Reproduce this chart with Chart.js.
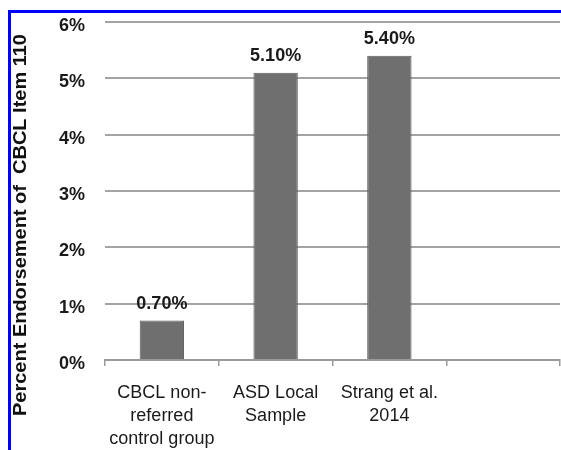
<!DOCTYPE html>
<html lang="en">
<head>
    <meta charset="UTF-8">
    <title>CBCL Item 110 Endorsement</title>
    <script src="https://cdn.jsdelivr.net/npm/chart.js"></script>
    <style>
        html, body { margin: 0; padding: 0; background: #fff; overflow: hidden; }
        #wrap { position: relative; width: 561px; height: 450px; }
        #frame {
            position: absolute; left: 8px; top: 10px; right: 0; bottom: 0;
            border-top: 3px solid #0000ff; border-left: 3px solid #0000ff;
            pointer-events: none;
        }
    </style>
</head>
<body>
    <div id="wrap">
        <canvas id="chart" width="561" height="450"></canvas>
        <div id="frame"></div>
    </div>

    <script>
        // data
        const groups = [
            ["CBCL non-", "referred", "control group"],
            ["ASD Local", "Sample"],
            ["Strang et al.", "2014"],
            ""
        ];
        const endorsement = [0.7, 5.1, 5.4, null];
        const yTicks = [0, 1, 2, 3, 4, 5, 6];
        const yTitle = "Percent Endorsement of  CBCL Item 110";

        const FONT = "'Liberation Sans', Arial, sans-serif";

        // value labels above the bars
        const barLabels = {
            id: 'barLabels',
            afterDatasetsDraw(chart) {
                const ctx = chart.ctx;
                const meta = chart.getDatasetMeta(0);
                ctx.save();
                ctx.font = "bold 18px " + FONT;
                ctx.fillStyle = "#1a1a1a";
                ctx.textAlign = "center";
                ctx.textBaseline = "middle";
                meta.data.forEach((bar, i) => {
                    const v = endorsement[i];
                    if (v == null) return;
                    ctx.fillText(v.toFixed(2) + "%", bar.x, bar.y - 17);
                });
                ctx.restore();
            }
        };

        // rotated y title, centred lower than the plot like the original
        const sideTitle = {
            id: 'sideTitle',
            afterDraw(chart) {
                const ctx = chart.ctx;
                ctx.save();
                ctx.translate(21, 225);
                ctx.rotate(-Math.PI / 2);
                ctx.scale(1.11, 1);
                ctx.font = "bold 18px " + FONT;
                ctx.fillStyle = "#111";
                ctx.textAlign = "center";
                ctx.textBaseline = "middle";
                ctx.fillText(yTitle, 0, 0);
                ctx.restore();
            }
        };

        const ctx = document.getElementById('chart').getContext('2d');
        new Chart(ctx, {
            type: 'bar',
            data: {
                labels: groups,
                datasets: [{
                    data: endorsement,
                    backgroundColor: "#6f6f6f",
                    borderColor: "#5c5c5c",
                    borderWidth: 1,
                    barPercentage: 0.39,
                    categoryPercentage: 1.0
                }]
            },
            options: {
                responsive: false,
                animation: false,
                layout: { padding: { left: 0, right: 1, top: 22, bottom: 0 } },
                plugins: {
                    legend: { display: false },
                    tooltip: { enabled: false }
                },
                scales: {
                    x: {
                        afterFit: s => { s.height = 90; },
                        grid: {
                            drawOnChartArea: false,
                            drawTicks: true,
                            tickLength: 6,
                            offset: true,
                            color: "#9a9a9a",
                            lineWidth: 1.5
                        },
                        border: { color: "#9a9a9a", width: 2 },
                        ticks: {
                            padding: 16,
                            maxRotation: 0,
                            autoSkip: false,
                            color: "#1a1a1a",
                            font: { family: FONT, size: 18, lineHeight: 1.27 }
                        }
                    },
                    y: {
                        min: 0,
                        max: 6,
                        afterFit: s => { s.width = 105; s.paddingTop = 0; s.paddingBottom = 0; },
                        afterBuildTicks: s => { s.ticks = yTicks.map(v => ({ value: v })); },
                        grid: {
                            drawTicks: false,
                            color: "#a3a3a3",
                            lineWidth: 2
                        },
                        border: { display: false },
                        ticks: {
                            padding: 20,
                            labelOffset: 4,
                            color: "#1a1a1a",
                            font: { family: FONT, size: 18, weight: 'bold' },
                            callback: v => v + "%"
                        }
                    }
                }
            },
            plugins: [barLabels, sideTitle]
        });
    </script>
</body>
</html>
